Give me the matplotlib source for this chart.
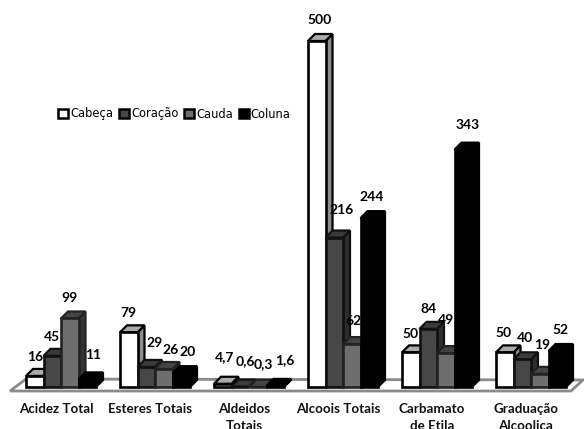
import matplotlib.pyplot as plt
from matplotlib.patches import Patch, Polygon

categories = ["Acidez Total", "Esteres Totais", "Aldeidos\nTotais", "Alcoois Totais", "Carbamato\nde Etila", "Graduação\nAlcoolica"]
series = ["Cabeça", "Coração", "Cauda", "Coluna"]
cabeca = [16, 79, 4.7, 500, 50, 50]
coracao = [45, 29, 0.6, 216, 84, 40]
cauda = [99, 26, 0.3, 62, 49, 19]
coluna = [11, 20, 1.6, 244, 343, 52]
values = [cabeca, coracao, cauda, coluna]

# label nudges in pixels (dx, dy above the bar top), one row per series
nudge_cabeca = [(0, 19), (0, 19), (2, 27), (3, 21), (0, 18), (-1, 19)]
nudge_coracao = [(0, 19), (8, 24), (5, 26), (7, 28), (0, 20), (3, 21)]
nudge_cauda = [(0, 20), (7, 19), (6, 23), (2, 23), (0, 33), (2, 29)]
nudge_coluna = [(6, 24), (6, 21), (10, 26), (2, 21), (4, 25), (3, 21)]
nudges = [nudge_cabeca, nudge_coracao, nudge_cauda, nudge_coluna]

face = ["white", "#474747", "#6e6e6e", "black"]
top = ["#ababab", "#3a3a3a", "#444444", "black"]
side = ["#8c8c8c", "#2e2e2e", "#333333", "black"]
edge = ["black", "#111111", "#222222", "black"]

W, H = 584, 429
base_px = 387
px_per_unit = 0.692
group_px = 94.0
first_px = 61.0
bar_w = 17.5 / group_px
dx = 7 / group_px
dy = 7 / px_per_unit

fig = plt.figure(figsize=(W / 100, H / 100), dpi=100)
ax = fig.add_axes([0, 0, 1, 1])
ax.set_xlim(-first_px / group_px, (W - first_px) / group_px)
ax.set_ylim(-(H - base_px) / px_per_unit, base_px / px_per_unit)
ax.axis("off")

# floor
px_x = 1 / group_px
px_y = 1 / px_per_unit
floor_l = ax.get_xlim()[0]
floor = [(floor_l + 10 * px_x, -4 * px_y), (floor_l + 571 * px_x, -4 * px_y),
         (floor_l + 583 * px_x, 7 * px_y), (floor_l + 26 * px_x, 8 * px_y)]
ax.add_patch(Polygon(floor, closed=True, fc="white", ec="#8a8a8a", lw=2, zorder=1))

for g in range(len(categories)):
    for s in range(len(series)):
        v = values[s][g]
        x0 = g + (s - 2) * bar_w
        x1 = x0 + bar_w
        z = 2 + g + s * 0.1
        ax.add_patch(Polygon([(x1, 0), (x1 + dx, dy), (x1 + dx, v + dy), (x1, v)], closed=True,
                             fc=side[s], ec=edge[s], lw=1.6, zorder=z))
        ax.add_patch(Polygon([(x0, v), (x0 + dx, v + dy), (x1 + dx, v + dy), (x1, v)], closed=True,
                             fc=top[s], ec=edge[s], lw=1.6, zorder=z))
        ax.bar(x0, v, width=bar_w, align="edge", color=face[s], edgecolor=edge[s], linewidth=1.9, zorder=z)
        ox, oy = nudges[s][g]
        label = str(v).replace(".", ",")
        ax.annotate(label, (x0 + bar_w / 2, v), xytext=(ox * 0.72, oy * 0.72), textcoords="offset points",
                    ha="center", va="center", fontsize=10, fontweight="bold", family="Lato", zorder=20)

for g, name in enumerate(categories):
    ax.text(g - 5 * px_x, -(403 - base_px) * px_y, name, ha="center", va="top", fontsize=9.6, fontweight="bold",
            family="Lato", linespacing=1.55, color="#111111")

handles = [Patch(fc=face[s], ec="black", lw=1.8) for s in range(len(series))]
ax.legend(handles, series, loc="center left", bbox_to_anchor=(58 / W, 1 - 114 / H), ncol=4, frameon=False,
          fontsize=8.3, handlelength=0.85, handleheight=0.9, handletextpad=0.2, columnspacing=0.5,
          borderpad=0, borderaxespad=0)

fig.savefig("out.png", dpi=100)
